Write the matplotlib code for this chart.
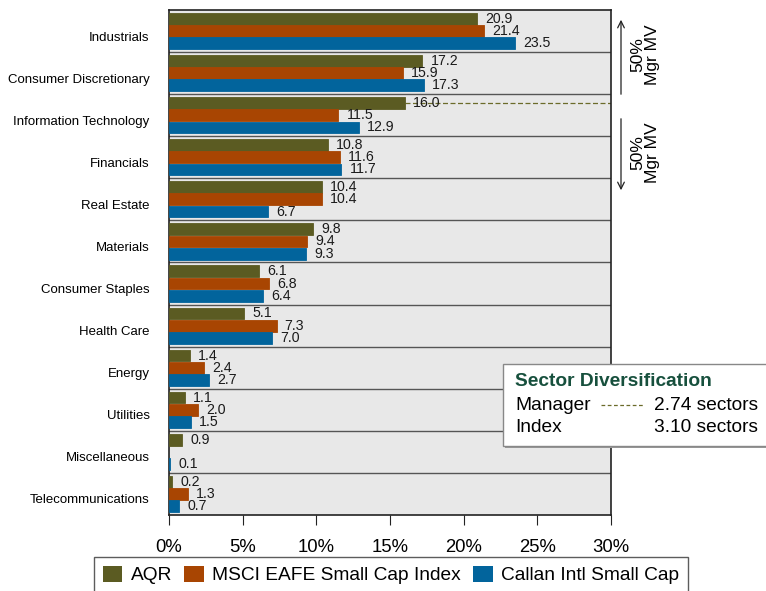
import matplotlib
matplotlib.use("Agg")
import matplotlib.pyplot as plt
import matplotlib.transforms as mtransforms
from matplotlib.patches import Rectangle, Patch, FancyArrowPatch
from matplotlib.lines import Line2D
import numpy as np

plt.rcParams['font.family'] = ['Liberation Sans', 'DejaVu Sans']

categories = ["Industrials", "Consumer Discretionary", "Information Technology", "Financials",
              "Real Estate", "Materials", "Consumer Staples", "Health Care", "Energy",
              "Utilities", "Miscellaneous", "Telecommunications"]
aqr = [20.9, 17.2, 16.0, 10.8, 10.4, 9.8, 6.1, 5.1, 1.4, 1.1, 0.9, 0.2]
msci = [21.4, 15.9, 11.5, 11.6, 10.4, 9.4, 6.8, 7.3, 2.4, 2.0, None, 1.3]
callan = [23.5, 17.3, 12.9, 11.7, 6.7, 9.3, 6.4, 7.0, 2.7, 1.5, 0.1, 0.7]
series_names = ["AQR", "MSCI EAFE Small Cap Index", "Callan Intl Small Cap"]
colors = ["#5b5b22", "#a84502", "#02649c"]
xticks = [0, 5, 10, 15, 20, 25, 30]
manager_div = "2.74 sectors"
index_div = "3.10 sectors"

W, H = 766, 591
fig = plt.figure(figsize=(W / 100, H / 100), dpi=100)

def fx(px):
    return px / W

def fy(py):
    return 1 - py / H

ax = fig.add_axes([fx(169), fy(515), fx(611) - fx(169), fy(10) - fy(515)])
ax.set_facecolor("#e8e8e8")

y = np.arange(len(categories))
bh = 0.28
offs = [-0.29, 0.0, 0.29]
for s, (vals, c, off) in enumerate(zip([aqr, msci, callan], colors, offs)):
    for i, v in enumerate(vals):
        if v is None:
            continue
        ax.barh(y[i] + off, v, height=bh, color=c, edgecolor=c, lw=0.6, zorder=3)
        ax.text(v + 0.55, y[i] + off, f"{v:.1f}", va='center', ha='left',
                fontsize=10.2, color='#1a1a1a', zorder=4)

for i in range(len(categories) - 1):
    ax.axhline(i + 0.5, color='#555555', lw=1.0, zorder=2)

# dashed manager line at IT AQR bar
it = categories.index("Information Technology")
ax.plot([aqr[it], 30], [it - 0.29, it - 0.29], ls=(0, (4, 2)), color='#6b6b2a', lw=0.9, zorder=2)

ax.set_xlim(0, 30)
ax.set_ylim(len(categories) - 0.5, -0.5)
ax.set_yticks(y)
ax.set_yticklabels(categories, fontsize=9.5)
ax.tick_params(axis='y', length=0, pad=14)
shift = mtransforms.ScaledTranslation(0, -5 / 100, fig.dpi_scale_trans)
for lab in ax.get_yticklabels():
    lab.set_transform(lab.get_transform() + shift)
ax.set_xticks(xticks)
ax.set_xticklabels([f"{t}%" for t in xticks], fontsize=13.3)
ax.tick_params(axis='x', length=7, pad=10, direction='out', color='#222222')
for sp in ax.spines.values():
    sp.set_color('#222222')
    sp.set_linewidth(1.2)

# right side arrows
fig.add_artist(FancyArrowPatch((fx(621), fy(97)), (fx(621), fy(17)),
               transform=fig.transFigure, arrowstyle='->', mutation_scale=12, lw=0.9, color='#222222'))
fig.add_artist(FancyArrowPatch((fx(621), fy(116)), (fx(621), fy(193)),
               transform=fig.transFigure, arrowstyle='->', mutation_scale=12, lw=0.9, color='#222222'))
fig.text(fx(645), fy(55), "50%\nMgr MV", rotation=90, ha='center', va='center', fontsize=12.5,
         linespacing=0.95)
fig.text(fx(645), fy(153), "50%\nMgr MV", rotation=90, ha='center', va='center', fontsize=12.5,
         linespacing=0.95)

# sector diversification box
fig.add_artist(Rectangle((fx(505), fy(448)), fx(270), (448 - 365) / H,
                         transform=fig.transFigure, facecolor='#999999', edgecolor='none', zorder=5))
fig.add_artist(Rectangle((fx(503), fy(446)), fx(270), (446 - 364) / H,
                         transform=fig.transFigure, facecolor='white', edgecolor='#888888', lw=1.0, zorder=6))
fs_box = 13.8
fig.text(fx(515), fy(382), "Sector Diversification", fontsize=fs_box, fontweight='bold',
         color='#17503d', va='center', ha='left', zorder=7)
fig.text(fx(515), fy(405), "Manager", fontsize=fs_box, va='center', ha='left', zorder=7)
fig.add_artist(Line2D([fx(601), fx(643)], [fy(405), fy(405)], ls=(0, (3, 2)),
               color='#6b6b2a', lw=0.9, transform=fig.transFigure, zorder=7))
fig.text(fx(758), fy(405), manager_div, fontsize=fs_box, va='center', ha='right', zorder=7)
fig.text(fx(515), fy(428), "Index", fontsize=fs_box, va='center', ha='left', zorder=7)
fig.text(fx(758), fy(428), index_div, fontsize=fs_box, va='center', ha='right', zorder=7)

# legend
handles = [Patch(facecolor=c, edgecolor='none', label=n) for c, n in zip(colors, series_names)]
leg = fig.legend(handles=handles, loc='upper center', bbox_to_anchor=(fx(391), fy(557)), ncol=3,
                 fontsize=13.8, frameon=True, fancybox=False, edgecolor='#333333',
                 handlelength=1.0, handleheight=0.95, handletextpad=0.45, columnspacing=0.65,
                 borderpad=0.45, borderaxespad=0)
leg.get_frame().set_linewidth(1.0)

fig.savefig("out.png", dpi=100)
